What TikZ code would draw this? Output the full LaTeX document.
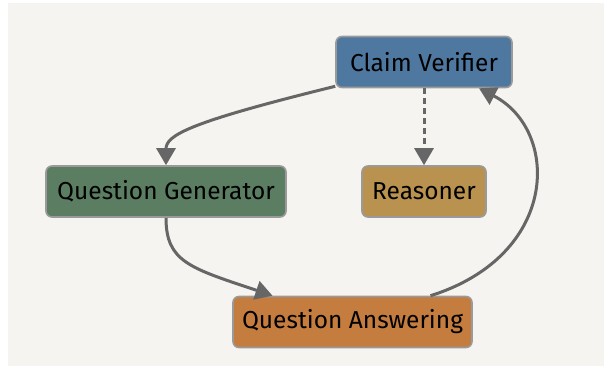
\documentclass[tikz,border=0pt]{standalone}
\usepackage{fontspec}
\setmainfont{Fira Sans}
\usetikzlibrary{arrows.meta}
\definecolor{bgpaper}{HTML}{F5F4F0}
\definecolor{edgegray}{HTML}{666666}
\definecolor{framegray}{HTML}{9A9A9A}
\definecolor{verifierblue}{HTML}{4F78A1}
\definecolor{generatorgreen}{HTML}{5B7E62}
\definecolor{reasonergold}{HTML}{BA924F}
\definecolor{answeringorange}{HTML}{C47C3F}
\tikzset{
  module/.style={draw=framegray, line width=1.6pt, rounded corners=6pt,
    minimum height=51pt, inner xsep=8pt, text=black,
    font=\fontsize{24.5}{28}\selectfont},
  flow/.style={draw=edgegray, line width=3pt,
    -{Triangle[length=17pt,width=19pt]}},
  aside/.style={flow, dash pattern=on 6pt off 4pt}
}
\begin{document}
\begin{tikzpicture}[x=1pt,y=-1pt]
  \useasboundingbox (0,0) rectangle (604,367);
  \fill[bgpaper] (8,3) rectangle (604,366);

  \node[module, fill=verifierblue, minimum width=176pt] (cv) at (424,62) {Claim Verifier};
  \node[module, fill=generatorgreen, minimum width=240pt] (qg) at (166,191.5) {Question Generator};
  \node[module, fill=reasonergold, minimum width=124pt] (rs) at (424,191.5) {Reasoner};
  \node[module, fill=answeringorange, minimum width=239pt] (qa) at (352.5,322) {Question Answering};

  \draw[flow] ([yshift=2pt]cv.south west)
    .. controls (190,122) and (166,135) .. (qg.north);
  \draw[aside] (cv.south) -- (rs.north);
  \draw[flow] (qg.south) .. controls (166,262) and (190,268) .. ([xshift=-80pt]qa.north);
  \draw[flow] ([xshift=78pt]qa.north) .. controls (560,255) and (560,130) .. ([xshift=55pt]cv.south);
\end{tikzpicture}
\end{document}
